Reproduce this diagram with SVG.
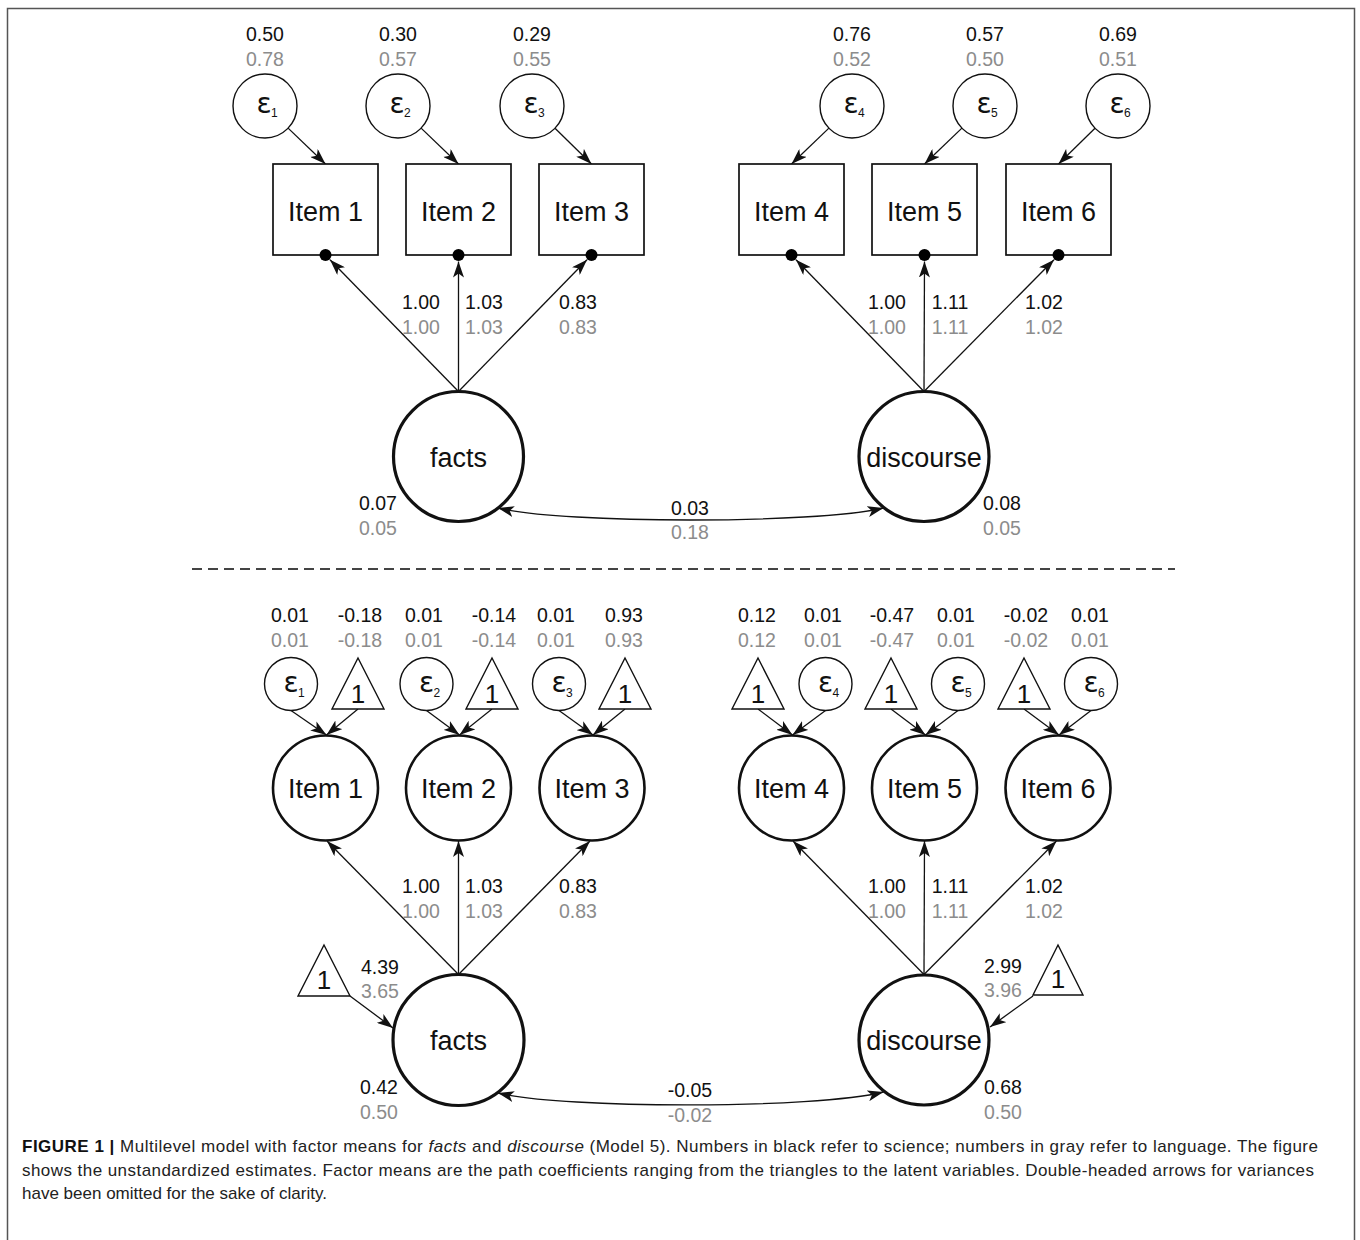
<svg xmlns="http://www.w3.org/2000/svg" width="1360" height="1240" viewBox="0 0 1360 1240">
<defs>
<style>
text{font-family:"Liberation Sans",Arial,sans-serif;fill:#111}
.n{font-size:19.5px;text-anchor:middle}
.g{fill:#8c8c8c}
.lb{font-size:27px;text-anchor:middle}
.eps{font-family:"DejaVu Sans",sans-serif;font-size:28px;text-anchor:middle}
.sub{font-size:12px}
.one{font-size:26px;text-anchor:middle}
.c{stroke:#111;stroke-width:1.3;fill:none}
.ec{fill:#fff;stroke:#111;stroke-width:1.4}
.box{fill:#fff;stroke:#111;stroke-width:1.7}
.lat{fill:#fff;stroke:#111;stroke-width:3.2}
.itc{fill:#fff;stroke:#111;stroke-width:2.6}
.tri{fill:#fff;stroke:#111;stroke-width:1.4}
.cap{font-size:17px;fill:#222}
</style>
<marker id="ah" viewBox="0 0 16 11" refX="16" refY="5.5" markerWidth="16" markerHeight="11" markerUnits="userSpaceOnUse" orient="auto-start-reverse">
<path d="M0,0 L16,5.5 L0,11 L4,5.5 z" fill="#111"/>
</marker>
</defs>
<rect x="7.5" y="8.5" width="1347" height="1240" fill="#fff" stroke="#555" stroke-width="1.5"/>

<g id="connectors">
<line class="c" x1="288.1" y1="128.1" x2="325.5" y2="164" marker-end="url(#ah)"/>
<line class="c" x1="421.1" y1="128.1" x2="458.5" y2="164" marker-end="url(#ah)"/>
<line class="c" x1="555" y1="128.2" x2="591.5" y2="164" marker-end="url(#ah)"/>
<line class="c" x1="828.9" y1="128.1" x2="791.5" y2="164" marker-end="url(#ah)"/>
<line class="c" x1="961.9" y1="128.1" x2="924.5" y2="164" marker-end="url(#ah)"/>
<line class="c" x1="1095" y1="128.2" x2="1058.5" y2="164" marker-end="url(#ah)"/>
<line class="c" x1="458.5" y1="391.5" x2="330" y2="259.7" marker-end="url(#ah)"/>
<line class="c" x1="458.5" y1="391.5" x2="458.5" y2="261.5" marker-end="url(#ah)"/>
<line class="c" x1="458.5" y1="391.5" x2="587" y2="259.7" marker-end="url(#ah)"/>
<line class="c" x1="924" y1="391.5" x2="796" y2="259.7" marker-end="url(#ah)"/>
<line class="c" x1="924" y1="391.5" x2="924.5" y2="261.5" marker-end="url(#ah)"/>
<line class="c" x1="924" y1="391.5" x2="1054" y2="259.7" marker-end="url(#ah)"/>
<path class="c" d="M498,508 C565,524 815,524 883.5,508" marker-start="url(#ah)" marker-end="url(#ah)"/>
<line x1="192" y1="569" x2="1175" y2="569" stroke="#444" stroke-width="1.8" stroke-dasharray="10,6"/>
<line class="c" x1="291" y1="710.5" x2="326.5" y2="735" marker-end="url(#ah)"/>
<line class="c" x1="358" y1="709" x2="326.5" y2="735" marker-end="url(#ah)"/>
<line class="c" x1="426.5" y1="710.5" x2="459.5" y2="735" marker-end="url(#ah)"/>
<line class="c" x1="492" y1="709" x2="459.5" y2="735" marker-end="url(#ah)"/>
<line class="c" x1="559" y1="710.5" x2="593" y2="735" marker-end="url(#ah)"/>
<line class="c" x1="625" y1="709" x2="593" y2="735" marker-end="url(#ah)"/>
<line class="c" x1="758" y1="709" x2="792.5" y2="735" marker-end="url(#ah)"/>
<line class="c" x1="825.5" y1="710.5" x2="792.5" y2="735" marker-end="url(#ah)"/>
<line class="c" x1="891" y1="709" x2="925.5" y2="735" marker-end="url(#ah)"/>
<line class="c" x1="958" y1="710.5" x2="925.5" y2="735" marker-end="url(#ah)"/>
<line class="c" x1="1024" y1="709" x2="1059" y2="735" marker-end="url(#ah)"/>
<line class="c" x1="1091" y1="710.5" x2="1059" y2="735" marker-end="url(#ah)"/>
<line class="c" x1="458.5" y1="974.5" x2="327" y2="841" marker-end="url(#ah)"/>
<line class="c" x1="458.5" y1="974.5" x2="458.5" y2="841" marker-end="url(#ah)"/>
<line class="c" x1="458.5" y1="974.5" x2="590" y2="841" marker-end="url(#ah)"/>
<line class="c" x1="924" y1="974.5" x2="793" y2="841" marker-end="url(#ah)"/>
<line class="c" x1="924" y1="974.5" x2="924.5" y2="841" marker-end="url(#ah)"/>
<line class="c" x1="924" y1="974.5" x2="1056.5" y2="841" marker-end="url(#ah)"/>
<line class="c" x1="350" y1="996" x2="393" y2="1028" marker-end="url(#ah)"/>
<line class="c" x1="1033" y1="996" x2="990" y2="1027" marker-end="url(#ah)"/>
<path class="c" d="M498,1093 C565,1109 815,1109 883.5,1092" marker-start="url(#ah)" marker-end="url(#ah)"/>
</g>

<g id="eps_t1"><circle class="ec" cx="265" cy="106" r="32"/><text class="eps" x="264" y="113">ε</text><text class="sub" x="271" y="117">1</text><text class="n" x="265" y="41">0.50</text><text class="n g" x="265" y="66">0.78</text></g>
<g id="eps_t2"><circle class="ec" cx="398" cy="106" r="32"/><text class="eps" x="397" y="113">ε</text><text class="sub" x="404" y="117">2</text><text class="n" x="398" y="41">0.30</text><text class="n g" x="398" y="66">0.57</text></g>
<g id="eps_t3"><circle class="ec" cx="532" cy="106" r="32"/><text class="eps" x="531" y="113">ε</text><text class="sub" x="538" y="117">3</text><text class="n" x="532" y="41">0.29</text><text class="n g" x="532" y="66">0.55</text></g>
<g id="eps_t4"><circle class="ec" cx="852" cy="106" r="32"/><text class="eps" x="851" y="113">ε</text><text class="sub" x="858" y="117">4</text><text class="n" x="852" y="41">0.76</text><text class="n g" x="852" y="66">0.52</text></g>
<g id="eps_t5"><circle class="ec" cx="985" cy="106" r="32"/><text class="eps" x="984" y="113">ε</text><text class="sub" x="991" y="117">5</text><text class="n" x="985" y="41">0.57</text><text class="n g" x="985" y="66">0.50</text></g>
<g id="eps_t6"><circle class="ec" cx="1118" cy="106" r="32"/><text class="eps" x="1117" y="113">ε</text><text class="sub" x="1124" y="117">6</text><text class="n" x="1118" y="41">0.69</text><text class="n g" x="1118" y="66">0.51</text></g>

<g id="item_t1"><rect class="box" x="273" y="164" width="105" height="91"/><circle cx="325.5" cy="255" r="6"/><text class="lb" x="325.5" y="221">Item 1</text></g>
<g id="item_t2"><rect class="box" x="406" y="164" width="105" height="91"/><circle cx="458.5" cy="255" r="6"/><text class="lb" x="458.5" y="221">Item 2</text></g>
<g id="item_t3"><rect class="box" x="539" y="164" width="105" height="91"/><circle cx="591.5" cy="255" r="6"/><text class="lb" x="591.5" y="221">Item 3</text></g>
<g id="item_t4"><rect class="box" x="739" y="164" width="105" height="91"/><circle cx="791.5" cy="255" r="6"/><text class="lb" x="791.5" y="221">Item 4</text></g>
<g id="item_t5"><rect class="box" x="872" y="164" width="105" height="91"/><circle cx="924.5" cy="255" r="6"/><text class="lb" x="924.5" y="221">Item 5</text></g>
<g id="item_t6"><rect class="box" x="1006" y="164" width="105" height="91"/><circle cx="1058.5" cy="255" r="6"/><text class="lb" x="1058.5" y="221">Item 6</text></g>

<g id="facts_t"><circle class="lat" cx="458.5" cy="456.5" r="65"/><text class="lb" x="458.5" y="467">facts</text></g>
<g id="discourse_t"><circle class="lat" cx="924" cy="456.5" r="65"/><text class="lb" x="924" y="467">discourse</text></g>

<g id="labels_t">
<text class="n" x="421" y="309">1.00</text><text class="n g" x="421" y="334">1.00</text>
<text class="n" x="484" y="309">1.03</text><text class="n g" x="484" y="334">1.03</text>
<text class="n" x="578" y="309">0.83</text><text class="n g" x="578" y="334">0.83</text>
<text class="n" x="887" y="309">1.00</text><text class="n g" x="887" y="334">1.00</text>
<text class="n" x="950" y="309">1.11</text><text class="n g" x="950" y="334">1.11</text>
<text class="n" x="1044" y="309">1.02</text><text class="n g" x="1044" y="334">1.02</text>
<text class="n" x="378" y="510">0.07</text><text class="n g" x="378" y="535">0.05</text>
<text class="n" x="1002" y="510">0.08</text><text class="n g" x="1002" y="535">0.05</text>
<text class="n" x="690" y="515">0.03</text><text class="n g" x="690" y="539">0.18</text>
</g>

<g id="eps_b1"><circle class="ec" cx="291" cy="684" r="26.5"/><text class="eps" x="291" y="692">ε</text><text class="sub" x="298" y="697">1</text></g>
<g id="eps_b2"><circle class="ec" cx="426.5" cy="684" r="26.5"/><text class="eps" x="426.5" y="692">ε</text><text class="sub" x="433.5" y="697">2</text></g>
<g id="eps_b3"><circle class="ec" cx="559" cy="684" r="26.5"/><text class="eps" x="559" y="692">ε</text><text class="sub" x="566" y="697">3</text></g>
<g id="eps_b4"><circle class="ec" cx="825.5" cy="684" r="26.5"/><text class="eps" x="825.5" y="692">ε</text><text class="sub" x="832.5" y="697">4</text></g>
<g id="eps_b5"><circle class="ec" cx="958" cy="684" r="26.5"/><text class="eps" x="958" y="692">ε</text><text class="sub" x="965" y="697">5</text></g>
<g id="eps_b6"><circle class="ec" cx="1091" cy="684" r="26.5"/><text class="eps" x="1091" y="692">ε</text><text class="sub" x="1098" y="697">6</text></g>

<g id="tri_b1"><polygon class="tri" points="358,658 384,709 332,709"/><text class="one" x="358" y="703">1</text></g>
<g id="tri_b2"><polygon class="tri" points="492,658 518,709 466,709"/><text class="one" x="492" y="703">1</text></g>
<g id="tri_b3"><polygon class="tri" points="625,658 651,709 599,709"/><text class="one" x="625" y="703">1</text></g>
<g id="tri_b4"><polygon class="tri" points="758,658 784,709 732,709"/><text class="one" x="758" y="703">1</text></g>
<g id="tri_b5"><polygon class="tri" points="891,658 917,709 865,709"/><text class="one" x="891" y="703">1</text></g>
<g id="tri_b6"><polygon class="tri" points="1024,658 1050,709 998,709"/><text class="one" x="1024" y="703">1</text></g>

<g id="item_b1"><circle class="itc" cx="325.5" cy="788" r="52.5"/><text class="lb" x="325.5" y="798">Item 1</text></g>
<g id="item_b2"><circle class="itc" cx="458.5" cy="788" r="52.5"/><text class="lb" x="458.5" y="798">Item 2</text></g>
<g id="item_b3"><circle class="itc" cx="592" cy="788" r="52.5"/><text class="lb" x="592" y="798">Item 3</text></g>
<g id="item_b4"><circle class="itc" cx="791.5" cy="788" r="52.5"/><text class="lb" x="791.5" y="798">Item 4</text></g>
<g id="item_b5"><circle class="itc" cx="924.5" cy="788" r="52.5"/><text class="lb" x="924.5" y="798">Item 5</text></g>
<g id="item_b6"><circle class="itc" cx="1058" cy="788" r="52.5"/><text class="lb" x="1058" y="798">Item 6</text></g>

<g id="facts_b"><circle class="lat" cx="458.5" cy="1040" r="65.5"/><text class="lb" x="458.5" y="1050">facts</text></g>
<g id="discourse_b"><circle class="lat" cx="924" cy="1040" r="65"/><text class="lb" x="924" y="1050">discourse</text></g>
<g id="mean_facts"><polygon class="tri" points="324,945 350,996 298,996"/><text class="one" x="324" y="989">1</text></g>
<g id="mean_discourse"><polygon class="tri" points="1058,945 1083,995 1033,995"/><text class="one" x="1058" y="988">1</text></g>

<g id="labels_b">
<text class="n" x="290" y="622">0.01</text><text class="n g" x="290" y="647">0.01</text>
<text class="n" x="360" y="622">-0.18</text><text class="n g" x="360" y="647">-0.18</text>
<text class="n" x="424" y="622">0.01</text><text class="n g" x="424" y="647">0.01</text>
<text class="n" x="494" y="622">-0.14</text><text class="n g" x="494" y="647">-0.14</text>
<text class="n" x="556" y="622">0.01</text><text class="n g" x="556" y="647">0.01</text>
<text class="n" x="624" y="622">0.93</text><text class="n g" x="624" y="647">0.93</text>
<text class="n" x="757" y="622">0.12</text><text class="n g" x="757" y="647">0.12</text>
<text class="n" x="823" y="622">0.01</text><text class="n g" x="823" y="647">0.01</text>
<text class="n" x="892" y="622">-0.47</text><text class="n g" x="892" y="647">-0.47</text>
<text class="n" x="956" y="622">0.01</text><text class="n g" x="956" y="647">0.01</text>
<text class="n" x="1026" y="622">-0.02</text><text class="n g" x="1026" y="647">-0.02</text>
<text class="n" x="1090" y="622">0.01</text><text class="n g" x="1090" y="647">0.01</text>
<text class="n" x="421" y="893">1.00</text><text class="n g" x="421" y="918">1.00</text>
<text class="n" x="484" y="893">1.03</text><text class="n g" x="484" y="918">1.03</text>
<text class="n" x="578" y="893">0.83</text><text class="n g" x="578" y="918">0.83</text>
<text class="n" x="887" y="893">1.00</text><text class="n g" x="887" y="918">1.00</text>
<text class="n" x="950" y="893">1.11</text><text class="n g" x="950" y="918">1.11</text>
<text class="n" x="1044" y="893">1.02</text><text class="n g" x="1044" y="918">1.02</text>
<text class="n" x="380" y="974">4.39</text><text class="n g" x="380" y="998">3.65</text>
<text class="n" x="1003" y="973">2.99</text><text class="n g" x="1003" y="997">3.96</text>
<text class="n" x="379" y="1094">0.42</text><text class="n g" x="379" y="1119">0.50</text>
<text class="n" x="1003" y="1094">0.68</text><text class="n g" x="1003" y="1119">0.50</text>
<text class="n" x="690" y="1097">-0.05</text><text class="n g" x="690" y="1122">-0.02</text>
</g>

<g id="caption">
<text class="cap" x="22" y="1152" textLength="1296"><tspan font-weight="bold" fill="#111">FIGURE 1 |</tspan> Multilevel model with factor means for <tspan font-style="italic">facts</tspan> and <tspan font-style="italic">discourse</tspan> (Model 5). Numbers in black refer to science; numbers in gray refer to language. The figure</text>
<text class="cap" x="22" y="1176" textLength="1292">shows the unstandardized estimates. Factor means are the path coefficients ranging from the triangles to the latent variables. Double-headed arrows for variances</text>
<text class="cap" x="22" y="1199">have been omitted for the sake of clarity.</text>
</g>
</svg>
